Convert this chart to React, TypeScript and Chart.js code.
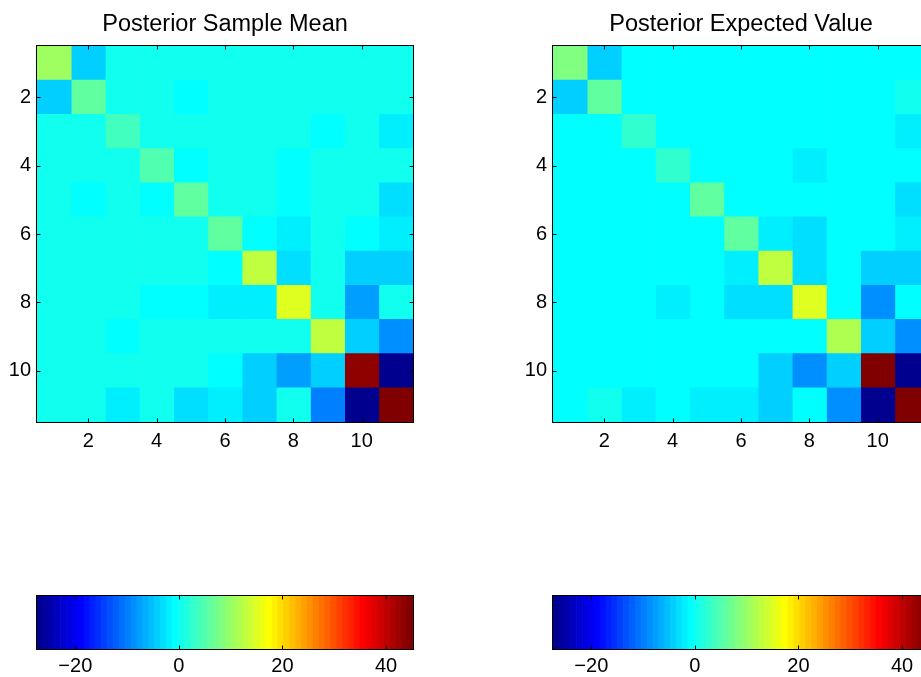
import { useEffect, useRef } from 'react';
import { Chart, registerables } from 'chart.js';

Chart.register(...registerables);

// ---- data -----------------------------------------------------------------

const rowLabels = ['1', '2', '3', '4', '5', '6', '7', '8', '9', '10', '11'];
const columnPositions = [1, 2, 3, 4, 5, 6, 7, 8, 9, 10, 11];
const axisTickValues = [2, 4, 6, 8, 10];
const colorbarTickValues = [-20, 0, 20, 40];
const colorLimits = [-27.4, 45.2];
const colormapSize = 64;

const sampleMeanTitle = 'Posterior Sample Mean';
const expectedValueTitle = 'Posterior Expected Value';

const sampleMean: number[][] = [
  [10.6, -4.1, 0.4, 0.4, 0.4, 0.4, 0.4, 0.4, 0.4, 0.4, 0.4],
  [-4.1, 6.1, 0.4, 0.4, -0.7, 0.4, 0.4, 0.4, 0.4, 0.4, 0.4],
  [0.4, 0.4, 3.8, 0.4, 0.4, 0.4, 0.4, 0.4, -0.7, 0.4, -1.9],
  [0.4, 0.4, 0.4, 4.9, -0.7, 0.4, 0.4, -0.7, 0.4, 0.4, 0.4],
  [0.4, -0.7, 0.4, -0.7, 6.1, 0.4, 0.4, -0.7, 0.4, 0.4, -3.0],
  [0.4, 0.4, 0.4, 0.4, 0.4, 6.1, -0.7, -1.9, 0.4, -0.7, -1.9],
  [0.4, 0.4, 0.4, 0.4, 0.4, -0.7, 12.9, -3.0, 0.4, -4.1, -4.1],
  [0.4, 0.4, 0.4, -0.7, -0.7, -1.9, -1.9, 15.1, 0.4, -7.5, 0.4],
  [0.4, 0.4, -0.7, 0.4, 0.4, 0.4, 0.4, 0.4, 12.9, -4.1, -8.7],
  [0.4, 0.4, 0.4, 0.4, 0.4, -0.7, -4.1, -7.5, -4.1, 43.5, -26.8],
  [0.4, 0.4, -1.9, 0.4, -3.0, -1.9, -4.1, 0.4, -9.8, -26.9, 44.6],
];

const expectedValue: number[][] = [
  [8.3, -4.1, -0.7, -0.7, -0.7, -0.7, -0.7, -0.7, -0.7, -0.7, -0.7],
  [-4.1, 6.1, -0.7, -0.7, -0.7, -0.7, -0.7, -0.7, -0.7, -0.7, 0.4],
  [-0.7, -0.7, 2.7, -0.7, -0.7, -0.7, -0.7, -0.7, -0.7, -0.7, -1.9],
  [-0.7, -0.7, -0.7, 2.7, -0.7, -0.7, -0.7, -1.9, -0.7, -0.7, -0.7],
  [-0.7, -0.7, -0.7, -0.7, 6.1, -0.7, -0.7, -0.7, -0.7, -0.7, -3.0],
  [-0.7, -0.7, -0.7, -0.7, -0.7, 6.1, -1.9, -3.0, -0.7, -0.7, -1.9],
  [-0.7, -0.7, -0.7, -0.7, -0.7, -1.9, 12.9, -3.0, -0.7, -4.1, -4.1],
  [-0.7, -0.7, -0.7, -1.9, -0.7, -3.0, -3.0, 15.1, -0.7, -8.7, -0.7],
  [-0.7, -0.7, -0.7, -0.7, -0.7, -0.7, -0.7, -0.7, 11.7, -4.1, -8.7],
  [-0.7, -0.7, -0.7, -0.7, -0.7, -0.7, -4.1, -8.7, -4.1, 45.2, -27.4],
  [-0.7, 0.4, -1.9, -0.7, -1.9, -1.9, -4.1, -0.7, -8.7, -27.1, 44.9],
];

// ---- colour map -----------------------------------------------------------

const FONT_FAMILY = '"Liberation Sans", Arial, Helvetica, sans-serif';

// MATLAB-style jet with 64 levels; level is 0-based.
function jetRgb(level: number): string {
  const k = level + 1;
  let r = 0;
  let g = 0;
  let b = 0;
  if (k >= 25 && k <= 40) r = (k - 24) / 16;
  else if (k > 40 && k <= 56) r = 1;
  else if (k > 56) r = (72 - k) / 16;
  if (k >= 9 && k <= 24) g = (k - 8) / 16;
  else if (k > 24 && k <= 40) g = 1;
  else if (k > 40 && k <= 55) g = (56 - k) / 16;
  if (k <= 8) b = (k + 8) / 16;
  else if (k <= 24) b = 1;
  else if (k <= 39) b = (40 - k) / 16;
  const c = (x: number) => Math.round(x * 255);
  return `rgb(${c(r)}, ${c(g)}, ${c(b)})`;
}

function colorFor(v: number): string {
  const [lo, hi] = colorLimits;
  let level = Math.floor(((v - lo) / (hi - lo)) * colormapSize);
  level = Math.max(0, Math.min(colormapSize - 1, level));
  return jetRgb(level);
}

const colormapLevels = Array.from({ length: colormapSize }, (_, i) => i);

// ---- axes box with inward tick marks --------------------------------------

const axesBoxPlugin = {
  id: 'axesBox',
  afterDraw(chart: any, _args: any, opts: any) {
    const { ctx, chartArea: a, scales } = chart;
    const L = Math.round(a.left) - 0.5;
    const R = Math.round(a.right) + 0.5;
    const T = Math.round(a.top) - 0.5;
    const B = Math.round(a.bottom) + 0.5;
    const len = opts.tickLength ?? 4;
    ctx.save();
    ctx.strokeStyle = '#000';
    ctx.lineWidth = 1;
    ctx.strokeRect(L, T, R - L, B - T);
    ctx.beginPath();
    scales.x.ticks.forEach((t: any) => {
      const px = Math.round(scales.x.getPixelForValue(t.value)) + 0.5;
      ctx.moveTo(px, B);
      ctx.lineTo(px, B - len);
      ctx.moveTo(px, T);
      ctx.lineTo(px, T + len);
    });
    if (opts.yTicks) {
      scales.y.ticks.forEach((t: any) => {
        const py = Math.round(scales.y.getPixelForValue(t.value)) + 0.5;
        ctx.moveTo(L, py);
        ctx.lineTo(L + len, py);
        ctx.moveTo(R, py);
        ctx.lineTo(R - len, py);
      });
    }
    ctx.stroke();
    ctx.restore();
  },
};

const tickFont = { family: FONT_FAMILY, size: 20 };

// ---- chart configurations -------------------------------------------------

function heatmapConfig(title: string, matrix: number[][]): any {
  return {
    type: 'bar',
    data: {
      labels: rowLabels,
      datasets: columnPositions.map((col, c) => ({
        label: `column ${col}`,
        data: matrix.map(() => [col - 0.5, col + 0.5]),
        backgroundColor: matrix.map((row) => colorFor(row[c])),
        borderWidth: 0,
        grouped: false,
        barPercentage: 1,
        categoryPercentage: 1,
      })),
    },
    options: {
      indexAxis: 'y',
      responsive: false,
      animation: false,
      events: [],
      layout: { padding: { left: 0, right: 47, top: 0, bottom: 0 } },
      scales: {
        x: {
          type: 'linear',
          min: 0.5,
          max: 11.5,
          offset: false,
          afterBuildTicks: (s: any) => {
            s.ticks = axisTickValues.map((value) => ({ value }));
          },
          afterFit: (s: any) => {
            s.height = 38;
          },
          grid: { display: false, drawTicks: false },
          border: { display: false },
          ticks: {
            font: tickFont,
            color: '#000',
            padding: 7,
            maxRotation: 0,
            autoSkip: false,
          },
        },
        y: {
          type: 'category',
          afterBuildTicks: (s: any) => {
            s.ticks = s.ticks.filter((t: any) =>
              axisTickValues.includes(Number(rowLabels[t.value]))
            );
          },
          afterFit: (s: any) => {
            s.width = 37;
          },
          grid: { display: false, drawTicks: false },
          border: { display: false },
          ticks: {
            font: tickFont,
            color: '#000',
            padding: 6,
            autoSkip: false,
          },
        },
      },
      plugins: {
        legend: { display: false },
        tooltip: { enabled: false },
        title: {
          display: true,
          text: title,
          fullSize: false,
          color: '#000',
          font: { family: FONT_FAMILY, size: 23.5, weight: 'normal' },
          padding: { top: 10, bottom: 7.8 },
        },
        axesBox: { tickLength: 4, yTicks: true },
      },
    },
    plugins: [axesBoxPlugin],
  };
}

function colorbarConfig(): any {
  const [lo, hi] = colorLimits;
  const step = (hi - lo) / colormapSize;
  return {
    type: 'bar',
    data: {
      datasets: [
        {
          label: 'colormap',
          data: colormapLevels.map((i) => ({ x: lo + (i + 0.5) * step, y: [0, 1] })),
          backgroundColor: colormapLevels.map((i) => jetRgb(i)),
          borderWidth: 0,
          barPercentage: 1,
          categoryPercentage: 1,
        },
      ],
    },
    options: {
      responsive: false,
      animation: false,
      events: [],
      layout: { padding: { left: 37, right: 47, top: 36, bottom: 0 } },
      scales: {
        x: {
          type: 'linear',
          min: lo,
          max: hi,
          offset: false,
          afterBuildTicks: (s: any) => {
            s.ticks = colorbarTickValues.map((value) => ({ value }));
          },
          afterFit: (s: any) => {
            s.height = 28;
          },
          grid: { display: false, drawTicks: false },
          border: { display: false },
          ticks: {
            font: tickFont,
            color: '#000',
            padding: 5,
            maxRotation: 0,
            autoSkip: false,
            callback: (v: number) => (v < 0 ? '\u2212' + Math.abs(v) : String(v)),
          },
        },
        y: { type: 'linear', min: 0, max: 1, display: false },
      },
      plugins: {
        legend: { display: false },
        tooltip: { enabled: false },
        title: { display: false },
        axesBox: { tickLength: 4, yTicks: false },
      },
    },
    plugins: [axesBoxPlugin],
  };
}

// ---- components -----------------------------------------------------------

type CanvasProps = {
  makeConfig: () => any;
  left: number;
  top: number;
  width: number;
  height: number;
};

function ChartCanvas({ makeConfig, left, top, width, height }: CanvasProps) {
  const ref = useRef<HTMLCanvasElement>(null);
  useEffect(() => {
    if (!ref.current) return;
    const chart = new Chart(ref.current, makeConfig());
    return () => chart.destroy();
  }, []);
  return (
    <canvas
      ref={ref}
      width={width}
      height={height}
      style={{ position: 'absolute', left, top, width, height }}
    />
  );
}

export default function App() {
  Chart.defaults.font.family = FONT_FAMILY;
  return (
    <div
      style={{
        position: 'fixed',
        left: 0,
        top: 0,
        width: 921,
        height: 677,
        overflow: 'hidden',
        background: '#fff',
      }}
    >
      <ChartCanvas
        makeConfig={() => heatmapConfig(sampleMeanTitle, sampleMean)}
        left={0}
        top={0}
        width={460}
        height={460}
      />
      <ChartCanvas
        makeConfig={() => heatmapConfig(expectedValueTitle, expectedValue)}
        left={516}
        top={0}
        width={460}
        height={460}
      />
      <ChartCanvas makeConfig={colorbarConfig} left={0} top={560} width={460} height={117} />
      <ChartCanvas makeConfig={colorbarConfig} left={516} top={560} width={460} height={117} />
    </div>
  );
}
